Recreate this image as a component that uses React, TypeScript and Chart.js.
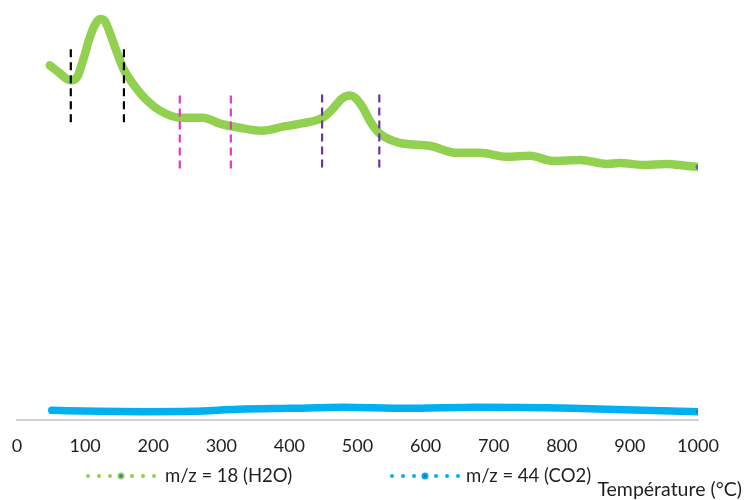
import React, { useEffect, useRef } from "react";
import { Chart, registerables } from "chart.js";

Chart.register(...registerables);

// ---- Data (temperature in °C, signal in arbitrary units) ----
const h2oTemp = [48, 63, 72, 79, 88, 97, 107, 115, 122, 128, 132, 144, 156, 170, 191, 210, 239, 264, 273, 298, 327, 360, 391, 416, 449, 464, 477, 489, 496, 507, 518, 533, 562, 606, 646, 680, 720, 753, 787, 827, 866, 885, 919, 954, 984, 1000];
const h2oSignal = [3.53, 3.45, 3.4, 3.38, 3.41, 3.58, 3.81, 3.94, 3.99, 3.98, 3.93, 3.71, 3.5, 3.35, 3.18, 3.08, 3.01, 3.01, 3.01, 2.95, 2.91, 2.88, 2.92, 2.95, 3.01, 3.1, 3.2, 3.23, 3.21, 3.12, 2.98, 2.85, 2.76, 2.73, 2.66, 2.66, 2.62, 2.63, 2.58, 2.59, 2.55, 2.56, 2.54, 2.55, 2.53, 2.52];

const co2Temp = [51, 122, 185, 256, 325, 401, 479, 570, 675, 815, 921, 1000];
const co2Signal = [0.1, 0.09, 0.087, 0.09, 0.11, 0.12, 0.13, 0.12, 0.13, 0.12, 0.1, 0.087];

const xTicks = [0, 100, 200, 300, 400, 500, 600, 700, 800, 900, 1000];

// Dashed vertical markers delimiting the desorption zones
const markerTemps = [79, 157, 239, 314, 448, 532];
const markerTop = [3.69, 3.69, 3.23, 3.23, 3.24, 3.24];
const markerBottom = [2.93, 2.93, 2.48, 2.48, 2.51, 2.51];

const seriesLabels = ["m/z = 18 (H2O)", "m/z = 44 (CO2)"];
const xAxisTitle = "Température (°C)";

const GREEN = "#92D050";
const BLUE = "#00B0F0";
const MARKER_COLORS = ["#000000", "#000000", "#E336C6", "#E336C6", "#7030A0", "#7030A0"];
const TEXT = "#1f1f1f";
const FONT = "Lato";

const legendPlugin = {
  id: "excelLegend",
  afterDraw(chart: any) {
    const ctx = chart.ctx;
    ctx.save();
    const items = [
      { x0: 88, color: GREEN, center: "#4472C4", textX: 165, label: seriesLabels[0] },
      { x0: 392, color: BLUE, center: "#2E75B6", textX: 466, label: seriesLabels[1] },
    ];
    const y = 476;
    for (const it of items) {
      for (let i = 0; i < 7; i++) {
        const cx = it.x0 + i * 11;
        ctx.beginPath();
        if (i === 3) {
          ctx.arc(cx, y, 3.5, 0, Math.PI * 2);
          ctx.fillStyle = it.color;
          ctx.fill();
          ctx.beginPath();
          ctx.arc(cx, y, 1.8, 0, Math.PI * 2);
          ctx.fillStyle = it.center;
          ctx.fill();
        } else {
          ctx.arc(cx, y, 2, 0, Math.PI * 2);
          ctx.fillStyle = it.color;
          ctx.fill();
        }
      }
      ctx.fillStyle = TEXT;
      ctx.font = `18.5px ${FONT}`;
      ctx.textBaseline = "middle";
      ctx.textAlign = "left";
      ctx.fillText(it.label, it.textX, y);
    }
    ctx.textAlign = "right";
    ctx.font = `19.5px ${FONT}`;
    ctx.fillText(xAxisTitle, 742, 490);
    ctx.restore();
  },
};

export default function App() {
  const canvasRef = useRef<HTMLCanvasElement | null>(null);

  useEffect(() => {
    let chart: Chart | null = null;
    let cancelled = false;
    const build = () => {
      if (cancelled || !canvasRef.current) return;
      const markerSets = markerTemps.map((t, i) => ({
        type: "line" as const,
        label: "zone" + i,
        data: [
          { x: t, y: markerTop[i] },
          { x: t, y: markerBottom[i] },
        ],
        borderColor: MARKER_COLORS[i],
        borderWidth: 2.2,
        borderDash: [8, 5],
        pointRadius: 0,
        fill: false,
      }));
      const last = h2oTemp.length - 1;
      const lastCo2 = co2Temp.length - 1;
      chart = new Chart(canvasRef.current, {
        type: "line",
        data: {
          datasets: [
            ...markerSets,
            {
              label: seriesLabels[0],
              data: h2oTemp.map((t, i) => ({ x: t, y: h2oSignal[i] })),
              borderColor: GREEN,
              borderWidth: 8.5,
              borderCapStyle: "round",
              borderJoinStyle: "round",
              cubicInterpolationMode: "monotone",
              pointRadius: (c: any) => (c.dataIndex === last ? 2.5 : 0),
              pointBackgroundColor: "#4472C4",
              pointBorderWidth: 0,
              fill: false,
            },
            {
              label: seriesLabels[1],
              data: co2Temp.map((t, i) => ({ x: t, y: co2Signal[i] })),
              borderColor: BLUE,
              borderWidth: 7.5,
              borderCapStyle: "round",
              borderJoinStyle: "round",
              cubicInterpolationMode: "monotone",
              pointRadius: (c: any) => (c.dataIndex === lastCo2 ? 2 : 0),
              pointBackgroundColor: "#2E75B6",
              pointBorderWidth: 0,
              fill: false,
            },
          ] as any,
        },
        options: {
          responsive: false,
          animation: false,
          layout: { padding: { left: 17, right: 48, top: 8, bottom: 28 } },
          plugins: { legend: { display: false }, tooltip: { enabled: false } },
          scales: {
            x: {
              type: "linear",
              min: 0,
              max: 1000,
              afterBuildTicks: (axis: any) => {
                axis.ticks = xTicks.map((v) => ({ value: v }));
              },
              afterFit: (axis: any) => {
                axis.paddingLeft = 0;
                axis.paddingRight = 0;
              },
              ticks: {
                callback: (v: any) => String(v),
                font: { family: FONT, size: 18 },
                color: TEXT,
                padding: 15,
                maxRotation: 0,
                autoSkip: false,
              },
              grid: { display: false, drawTicks: false },
              border: { display: true, color: "#D0D0D0", width: 2 },
            },
            y: { display: false, min: 0, max: 4.1 },
          },
        },
        plugins: [legendPlugin],
      } as any);
    };
    if ((document as any).fonts && (document as any).fonts.load) {
      Promise.all([
        (document as any).fonts.load(`16px ${FONT}`),
        (document as any).fonts.load(`18px ${FONT}`),
      ])
        .catch(() => null)
        .then(build);
    } else {
      build();
    }
    return () => {
      cancelled = true;
      if (chart) chart.destroy();
    };
  }, []);

  return (
    <div style={{ position: "absolute", left: 0, top: 0, width: 746, height: 500, background: "#fff" }}>
      <canvas ref={canvasRef} width={746} height={500} style={{ display: "block" }} />
    </div>
  );
}
